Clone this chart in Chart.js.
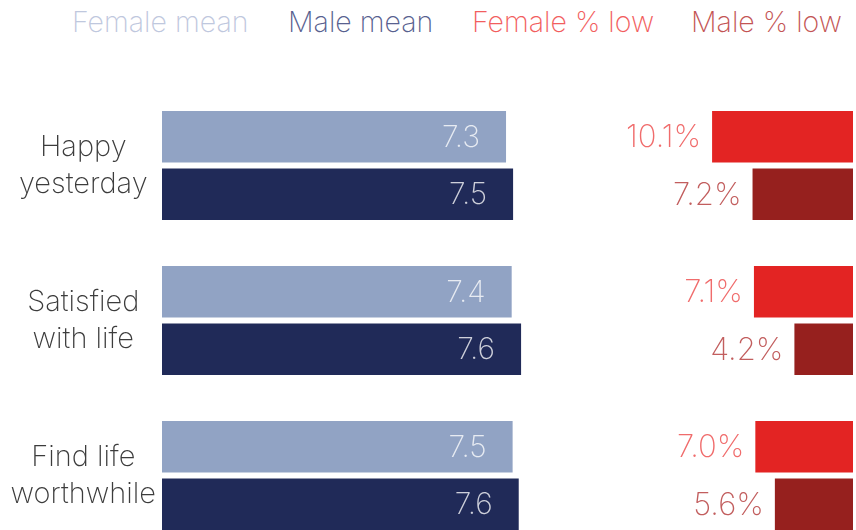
<!DOCTYPE html>
<html>
<head>
<meta charset="utf-8">
<script src="https://cdn.jsdelivr.net/npm/chart.js@4/dist/chart.umd.min.js"></script>
<style>
  html, body { margin: 0; padding: 0; background: #fff; }
  body { width: 856px; height: 530px; overflow: hidden; position: relative; font-family: Inter, sans-serif; font-weight: 200; }
  #legend span { position: absolute; top: 1px; font-size: 28.5px; line-height: 42px; white-space: nowrap; }
  #wrapA { position: absolute; left: 0; top: 0; width: 632px; height: 603px; }
  #wrapB { position: absolute; left: 560px; top: 0; width: 296px; height: 603px; }
</style>
</head>
<body>
<div id="legend"></div>
<div id="wrapA"><canvas id="chartA"></canvas></div>
<div id="wrapB"><canvas id="chartB"></canvas></div>
<script>
// ---- data ----
const categories = [["Happy", "yesterday"], ["Satisfied", "with life"], ["Find life", "worthwhile"]];
const seriesNames = ["Female mean", "Male mean", "Female % low", "Male % low"];
const femaleMean = [7.32, 7.44, 7.46];
const maleMean = [7.47, 7.64, 7.59];
const femaleLow = [10.1, 7.1, 7.0];
const maleLow = [7.2, 4.2, 5.6];

// ---- styles ----
const FONT = "Inter";
const W = 200;
const barColors = ["#91a3c4", "#202a58", "#e32423", "#96201e"];
const legendColors = ["#bfc8de", "#58618f", "#f25e5e", "#c35454"];
const pctLabelColors = ["#f06c6c", "#c25e5e"];

// legend (HTML text)
const legendX = [72, 288, 472, 691];
const legendEl = document.getElementById('legend');
seriesNames.forEach((n, i) => {
  const s = document.createElement('span');
  s.textContent = n;
  s.style.left = legendX[i] + 'px';
  s.style.color = legendColors[i];
  legendEl.appendChild(s);
});

const meanLabels = {
  id: 'meanLabels',
  afterDatasetsDraw(chart) {
    const ctx = chart.ctx;
    ctx.save();
    ctx.font = `${W} 30px ${FONT}`;
    ctx.fillStyle = 'rgba(255,255,255,0.78)';
    ctx.textAlign = 'right';
    ctx.textBaseline = 'middle';
    chart.data.datasets.forEach((ds, di) => {
      chart.getDatasetMeta(di).data.forEach((bar, i) => {
        ctx.fillText(ds.data[i].toFixed(1), bar.x - 26, bar.y + 1);
      });
    });
    ctx.restore();
  }
};

const pctLabels = {
  id: 'pctLabels',
  afterDatasetsDraw(chart) {
    const ctx = chart.ctx;
    ctx.save();
    ctx.font = `${W} 31px ${FONT}`;
    ctx.textAlign = 'right';
    ctx.textBaseline = 'middle';
    chart.data.datasets.forEach((ds, di) => {
      ctx.fillStyle = pctLabelColors[di];
      chart.getDatasetMeta(di).data.forEach((bar, i) => {
        ctx.fillText(ds.data[i].toFixed(1) + '%', bar.x - 11, bar.y + 1);
      });
    });
    ctx.restore();
  }
};

const common = {
  indexAxis: 'y',
  responsive: true,
  maintainAspectRatio: false,
  animation: false,
  events: [],
  plugins: { legend: { display: false }, tooltip: { enabled: false } },
};

new Chart(document.getElementById('chartA'), {
  type: 'bar',
  data: {
    labels: categories,
    datasets: [
      { label: seriesNames[0], data: femaleMean, backgroundColor: barColors[0], categoryPercentage: 0.742, barPercentage: 0.896 },
      { label: seriesNames[1], data: maleMean, backgroundColor: barColors[1], categoryPercentage: 0.742, barPercentage: 0.896 }
    ]
  },
  options: Object.assign({}, common, {
    layout: { padding: { top: 88, bottom: 50, left: 0, right: 0 } },
    scales: {
      x: { display: false, min: 0, max: 10 },
      y: {
        grid: { display: false, drawTicks: false },
        border: { display: false },
        ticks: { font: { family: FONT, size: 29, weight: W, lineHeight: 1.28 }, color: '#3c3c3c', crossAlign: 'center', padding: 6 },
        afterFit(scale) { scale.width = 162; }
      }
    }
  }),
  plugins: [meanLabels]
});

new Chart(document.getElementById('chartB'), {
  type: 'bar',
  data: {
    labels: categories,
    datasets: [
      { label: seriesNames[2], data: femaleLow, backgroundColor: barColors[2], categoryPercentage: 0.742, barPercentage: 0.896 },
      { label: seriesNames[3], data: maleLow, backgroundColor: barColors[3], categoryPercentage: 0.742, barPercentage: 0.896 }
    ]
  },
  options: Object.assign({}, common, {
    layout: { padding: { top: 88, bottom: 50, left: 0, right: 3 } },
    scales: {
      x: { display: false, min: 0, max: 21, reverse: true },
      y: { display: false }
    }
  }),
  plugins: [pctLabels]
});
</script>
</body>
</html>
